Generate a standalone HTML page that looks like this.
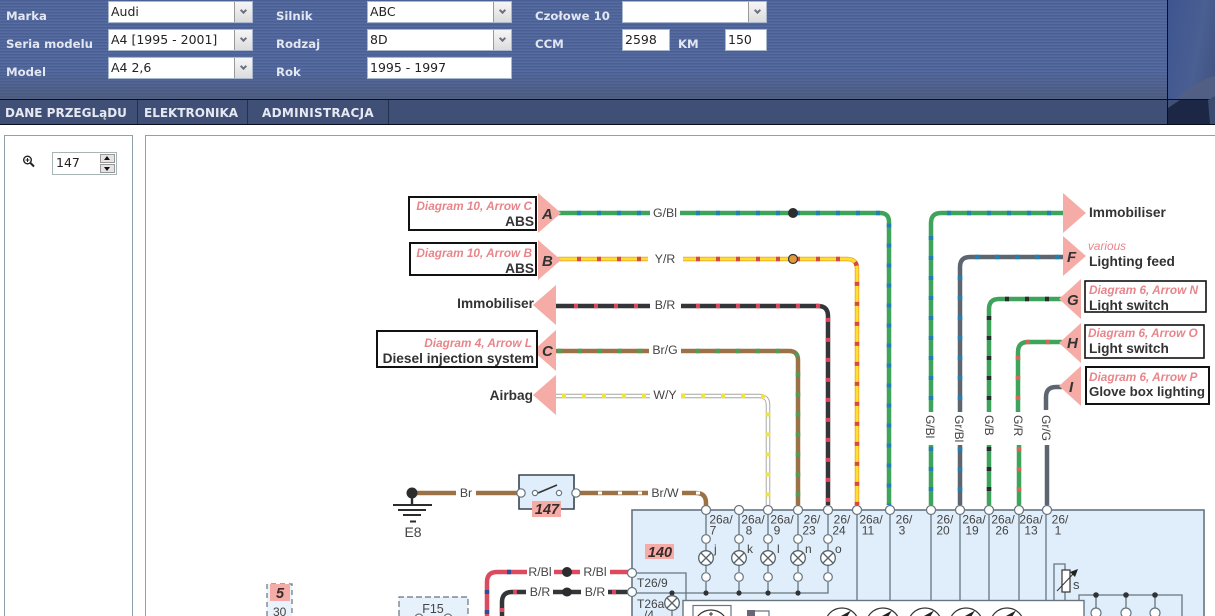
<!DOCTYPE html>
<html lang="pl">
<head>
<meta charset="utf-8">
<title>Diagram</title>
<style>
html,body{margin:0;padding:0;background:#fff;width:1215px;height:616px;overflow:hidden}
#wrap{position:relative;width:1215px;height:616px;overflow:hidden;font-family:"DejaVu Sans",sans-serif}
#head{position:absolute;left:0;top:0;width:1215px;height:99px;background:repeating-linear-gradient(180deg,#4a5f94 0,#4a5f94 1.5px,#566b9f 1.5px,#566b9f 3px)}
#fade{position:absolute;left:0;top:72px;width:1167px;height:27px;background:linear-gradient(180deg,rgba(70,85,115,0),rgba(75,85,105,.55))}
#line1{position:absolute;left:0;top:99px;width:1215px;height:1px;background:#0a0f20}
#nav{position:absolute;left:0;top:100px;width:1215px;height:24px;background:#3f4f75}
#line2{position:absolute;left:0;top:124px;width:1215px;height:1px;background:#0a0f20}
#vl{position:absolute;left:1167px;top:0;width:1px;height:124px;background:#0a0f20}
#pic{position:absolute;left:1168px;top:0;width:47px;height:99px;background:linear-gradient(100deg,#3d5590,#4a5f92 60%,#40527f)}
#pic2{position:absolute;left:1168px;top:100px;width:47px;height:24px;background:#25335a}
.l{position:absolute;color:#e2e7f2;font-weight:bold;font-size:11.7px;line-height:14px;white-space:nowrap}
.f{position:absolute;background:#fff;border:1px solid #a9b7cf;box-sizing:border-box;height:22px;font-size:12.5px;line-height:19px;padding-left:2px;color:#222;white-space:nowrap;overflow:hidden}
.s{width:145px}
.s i{position:absolute;right:0;top:0;bottom:0;width:17px;background:linear-gradient(180deg,#f6f6f6,#dcdcdc);border-left:1px solid #999}
.s i:after{content:"";position:absolute;left:5.5px;top:6px;width:3px;height:3px;border-right:2px solid #6a7080;border-bottom:2px solid #6a7080;transform:rotate(45deg)}
.n{position:absolute;top:100px;height:24px;line-height:27px;color:#e6e9f2;font-weight:bold;font-size:12px;white-space:nowrap}
.sep{position:absolute;top:100px;width:1px;height:24px;background:#25304e}
.panel{position:absolute;border:1px solid #8fa2a8;box-sizing:border-box;background:#fff}
#spin{position:absolute;left:52px;top:152px;width:65px;height:23px;border:1px solid #a9b4b4;box-sizing:border-box;font-size:12.5px;line-height:19px;padding-left:3px;color:#222}
.sb{position:absolute;left:47px;width:15px;height:9px;background:#e4e4e4;border:1px solid #999;box-sizing:border-box}
.sb:after{content:"";position:absolute;left:3px;border-left:3.5px solid transparent;border-right:3.5px solid transparent}
#up{top:1px}#up:after{top:1px;border-bottom:4px solid #111}
#dn{top:11px}#dn:after{top:2px;border-top:4px solid #111}
svg{position:absolute;left:0;top:0}
.w{font-family:"Liberation Sans",sans-serif;font-size:12.3px;fill:#444}
.v{font-family:"Liberation Sans",sans-serif;font-size:12px;fill:#444}
.b{font-family:"Liberation Sans",sans-serif;font-size:13.7px;font-weight:bold;fill:#333}
.d{font-family:"Liberation Sans",sans-serif;font-size:11.8px;font-weight:bold;font-style:italic;fill:#e8858a}
.a{font-family:"Liberation Sans",sans-serif;font-size:15px;font-weight:bold;font-style:italic;fill:#333}
.m{font-family:"Liberation Sans",sans-serif;font-size:12px;fill:#444}
.bd{font-family:"Liberation Sans",sans-serif;font-size:14.5px;font-weight:bold;font-style:italic;fill:#3a2a2a;text-anchor:middle}
.c{fill:#fff;stroke:#66757f;stroke-width:1.2}
.p{fill:none;stroke:#66757f;stroke-width:1.3}
</style>
</head>
<body>
<div id="wrap">
<div id="head"></div><div id="fade"></div>
<div id="pic"></div><div id="pic2"></div>
<div id="nav"></div>
<div id="line1"></div><div id="line2"></div><div id="vl"></div>

<div class="l" style="left:6px;top:9px">Marka</div>
<div class="l" style="left:6px;top:37px">Seria modelu</div>
<div class="l" style="left:6px;top:65px">Model</div>
<div class="l" style="left:276px;top:9px">Silnik</div>
<div class="l" style="left:276px;top:37px">Rodzaj</div>
<div class="l" style="left:276px;top:65px">Rok</div>
<div class="l" style="left:535px;top:9px">Czołowe 10</div>
<div class="l" style="left:535px;top:37px">CCM</div>
<div class="l" style="left:678px;top:37px">KM</div>

<div class="f s" style="left:108px;top:1px">Audi<i></i></div>
<div class="f s" style="left:108px;top:29px">A4 [1995 - 2001]<i></i></div>
<div class="f s" style="left:108px;top:57px">A4 2,6<i></i></div>
<div class="f s" style="left:367px;top:1px">ABC<i></i></div>
<div class="f s" style="left:367px;top:29px">8D<i></i></div>
<div class="f" style="left:367px;top:57px;width:145px">1995 - 1997</div>
<div class="f s" style="left:622px;top:1px"><i></i></div>
<div class="f" style="left:622px;top:29px;width:48px">2598</div>
<div class="f" style="left:725px;top:29px;width:42px">150</div>

<div class="n" style="left:5px">DANE PRZEGLąDU</div>
<div class="sep" style="left:137px"></div>
<div class="n" style="left:144px">ELEKTRONIKA</div>
<div class="sep" style="left:247px"></div>
<div class="n" style="left:262px;letter-spacing:.3px">ADMINISTRACJA</div>
<div class="sep" style="left:388px"></div>

<div class="panel" style="left:4px;top:135px;width:129px;height:490px"></div>
<div class="panel" style="left:145px;top:135px;width:1080px;height:490px"></div>
<div id="spin">147<div class="sb" id="up"></div><div class="sb" id="dn"></div></div>

<svg width="1215" height="616" viewBox="0 0 1215 616">
<!-- header picture -->
<polygon points="1175,99 1195,84 1208,78 1215,76 1215,99" fill="#525f84"/>
<polygon points="1168,124 1168,108 1180,100 1210,100 1215,108 1215,124" fill="#1c2745"/>
<polygon points="1208,100 1215,96 1215,124 1210,124" fill="#3c4c70"/>
<!-- magnifier -->
<circle cx="27.5" cy="160" r="3.8" fill="#fff" stroke="#222" stroke-width="1.4"/>
<path d="M30.5 163l3.5 3.5" stroke="#222" stroke-width="2"/>
<path d="M25.5 160h4M27.5 158v4" stroke="#222" stroke-width="1"/>

<!-- module -->
<rect x="632" y="510" width="572" height="120" fill="#e0eefb" stroke="#66757f" stroke-width="1.6"/>
<rect x="683" y="600.5" width="401" height="40" fill="#fff" stroke="#66757f" stroke-width="1.4"/>

<!-- module verticals -->
<path class="p" d="M706 510V535M706 544V551M706 565V572M706 582V593M739 510V535M739 544V551M739 565V572M739 582V593M768 510V535M768 544V551M768 565V572M768 582V593M798 510V535M798 544V551M798 565V572M798 582V593M828 510V535M828 544V551M828 565V572M828 582V593H632"/>
<path class="p" d="M857 510V600M890 510V600M931 510V600M960 510V600M989 510V600M1019 510V600M1046 510V600" stroke-width="1.6"/>
<path class="p" d="M632 573H686V600M672 593V597M672 610V616"/>

<!-- junction dots -->
<g fill="#2f3338"><circle cx="672" cy="593" r="2.6"/><circle cx="706" cy="593" r="2.6"/><circle cx="739" cy="593" r="2.6"/><circle cx="768" cy="593" r="2.6"/><circle cx="798" cy="593" r="2.6"/></g>

<!-- bulbs -->
<g fill="#fff" stroke="#55626c" stroke-width="1.3">
<circle cx="706" cy="558" r="7.3"/><path d="M701 553l10 10M711 553l-10 10"/>
<circle cx="739" cy="558" r="7.3"/><path d="M734 553l10 10M744 553l-10 10"/>
<circle cx="768" cy="558" r="7.3"/><path d="M763 553l10 10M773 553l-10 10"/>
<circle cx="798" cy="558" r="7.3"/><path d="M793 553l10 10M803 553l-10 10"/>
<circle cx="828" cy="558" r="7.3"/><path d="M823 553l10 10M833 553l-10 10"/>
<circle cx="672" cy="603" r="7.3"/><path d="M667 598l10 10M677 598l-10 10"/>
</g>
<g class="c">
<circle cx="706" cy="539" r="4.3"/><circle cx="739" cy="539" r="4.3"/><circle cx="768" cy="539" r="4.3"/><circle cx="798" cy="539" r="4.3"/><circle cx="828" cy="539" r="4.3"/>
<circle cx="706" cy="577" r="4.3"/><circle cx="739" cy="577" r="4.3"/><circle cx="768" cy="577" r="4.3"/><circle cx="798" cy="577" r="4.3"/><circle cx="828" cy="577" r="4.3"/>
</g>

<!-- wires -->
<g fill="none" stroke-linejoin="round">
<!-- G/Bl -->
<g stroke="#3fa45b" stroke-width="4.5"><path d="M558 213H650M680 213H880Q889 213 889 222V505"/></g>
<g stroke="#2080b4" stroke-width="4.5" stroke-dasharray="4 16"><path d="M577 213H650"/><path d="M696 213H880Q889 213 889 222V505"/></g>
<!-- Y/R -->
<g stroke="#eda53a" stroke-width="4.5"><path d="M558 259H648M683 259H847Q857 259 857 269V505"/></g>
<g stroke="#ffe02c" stroke-width="2.8"><path d="M558 259H648M683 259H847Q857 259 857 269V505"/></g>
<g stroke="#d9483f" stroke-width="4.5" stroke-dasharray="4 16"><path d="M577 259H648"/><path d="M696 259H847Q857 259 857 269V505"/></g>
<!-- B/R -->
<g stroke="#333538" stroke-width="4.5"><path d="M556 306H650M681 306H818Q828 306 828 316V505"/></g>
<g stroke="#d9485f" stroke-width="4.5" stroke-dasharray="4 16"><path d="M574 306H650"/><path d="M696 306H818Q828 306 828 316V505"/></g>
<!-- Br/G -->
<g stroke="#9b7246" stroke-width="4.5"><path d="M556 351H649M681 351H789Q798 351 798 360V505"/></g>
<g stroke="#48a05a" stroke-width="4.5" stroke-dasharray="4 16"><path d="M558 351H649"/><path d="M696 351H789Q798 351 798 360V505"/></g>
<!-- W/Y -->
<g stroke="#a5a59f" stroke-width="4.5"><path d="M556 396H650M681 396H759Q768 396 768 405V505"/></g>
<g stroke="#fff" stroke-width="2.6"><path d="M556 396H650M681 396H759Q768 396 768 405V505"/></g>
<g stroke="#f1e23e" stroke-width="4.5" stroke-dasharray="4 16"><path d="M562 396H650"/><path d="M681 396H759Q768 396 768 405V505"/></g>

<!-- right side -->
<g stroke="#3fa45b" stroke-width="4.5"><path d="M931 412V223Q931 213 941 213H1065M931 445V505"/></g>
<g stroke="#2080b4" stroke-width="4.5" stroke-dasharray="4 16"><path d="M947 213H1065"/><path d="M931 400V225"/><path d="M931 447V505"/></g>
<g stroke="#5d6570" stroke-width="4.5"><path d="M960 412V267Q960 257 970 257H1065M960 445V505"/></g>
<g stroke="#2080b4" stroke-width="4.5" stroke-dasharray="4 16"><path d="M975 257H1065"/><path d="M960 400V268"/><path d="M960 447V505"/></g>
<g stroke="#3fa45b" stroke-width="4.5"><path d="M989 412V309Q989 299 999 299H1062M989 445V505"/></g>
<g stroke="#2a2c2e" stroke-width="4.5" stroke-dasharray="4 16"><path d="M1005 299H1062"/><path d="M989 400V305"/><path d="M989 447V505"/></g>
<g stroke="#3fa45b" stroke-width="4.5"><path d="M1018 412V352Q1018 342 1028 342H1062M1019 445V505"/></g>
<g stroke="#d06a55" stroke-width="4.5" stroke-dasharray="4 16"><path d="M1026 342H1062"/><path d="M1018 400V352"/><path d="M1019 447V505"/></g>
<g stroke="#5d6570" stroke-width="4.5"><path d="M1046 410V397Q1046 387 1056 387H1062M1047 445V505"/></g>

<!-- Br, Br/W -->
<g stroke="#9b7246" stroke-width="4.5"><path d="M412 493H456M476 493H517M579 493H648M682 493H696Q706 493 706 503V508"/></g>
<g stroke="#fff" stroke-width="3" stroke-dasharray="4 16"><path d="M598 493H648"/></g>
<path d="M696 493h4" stroke="#fff" stroke-width="3"/>

<!-- R/Bl and B/R -->
<g stroke="#dc4a60" stroke-width="4.5"><path d="M487 616V582Q487 572 497 572H527M554 572H580M610 572H628"/></g>
<g stroke="#2c4f9c" stroke-width="4.5" stroke-dasharray="4 16"><path d="M487 614V580"/><path d="M507 572H527"/></g>
<g stroke="#333538" stroke-width="4.5"><path d="M502 616V602Q502 592 512 592H526M553 592H581M608 592H628"/></g>
<g stroke="#d9485f" stroke-width="4.5" stroke-dasharray="4 16"><path d="M502 612V600"/><path d="M513 592H526"/><path d="M612 592H628"/></g>
</g>
<ellipse cx="567" cy="572" rx="5" ry="5" fill="#2a2c2e"/>
<ellipse cx="567" cy="592" rx="5" ry="4.5" fill="#2a2c2e"/>

<!-- top connector circles -->
<g class="c">
<circle cx="706" cy="510" r="4.5"/><circle cx="739" cy="510" r="4.5"/><circle cx="768" cy="510" r="4.5"/><circle cx="798" cy="510" r="4.5"/><circle cx="828" cy="510" r="4.5"/><circle cx="857" cy="510" r="4.5"/><circle cx="890" cy="510" r="4.5"/><circle cx="931" cy="510" r="4.5"/><circle cx="960" cy="510" r="4.5"/><circle cx="989" cy="510" r="4.5"/><circle cx="1019" cy="510" r="4.5"/><circle cx="1047" cy="510" r="4.5"/>
<circle cx="632" cy="573" r="4.5"/><circle cx="632" cy="592" r="4.5"/>
</g>

<!-- dots on wires -->
<circle cx="793" cy="213" r="5" fill="#2a2c2e"/>
<circle cx="793" cy="259" r="4.5" fill="#e09a3a" stroke="#333" stroke-width="1.2"/>

<!-- triangles -->
<g fill="#f5aca6">
<polygon points="538,193 538,233 561,213"/>
<polygon points="538,240 538,280 561,260"/>
<polygon points="556,285 556,325 533,305"/>
<polygon points="556,330 556,371 533,351"/>
<polygon points="556,375 556,415 533,395"/>
<polygon points="1063,193 1063,233 1086,213"/>
<polygon points="1063,236 1063,276 1086,256"/>
<polygon points="1081,279 1081,319 1059,299"/>
<polygon points="1081,323 1081,363 1059,343"/>
<polygon points="1081,366 1081,406 1059,386"/>
</g>

<!-- boxes -->
<g fill="#fff" stroke="#111" stroke-width="2">
<rect x="409" y="197" width="127" height="33"/>
<rect x="410" y="243" width="126" height="32"/>
<rect x="377" y="331" width="160" height="36"/>
<rect x="1085" y="281" width="121" height="31" stroke-width="1.6"/>
<rect x="1085" y="325" width="119" height="33" stroke-width="1.6"/>
<rect x="1086" y="367" width="123" height="37"/>
</g>

<!-- letters -->
<text class="a" x="542" y="219">A</text>
<text class="a" x="542" y="266">B</text>
<text class="a" x="542" y="356">C</text>
<text class="a" x="1067" y="262">F</text>
<text class="a" x="1067" y="305">G</text>
<text class="a" x="1067" y="348">H</text>
<text class="a" x="1069" y="392">I</text>

<!-- left labels -->
<g text-anchor="end">
<text class="d" x="532" y="210">Diagram 10, Arrow C</text>
<text class="b" x="534" y="226">ABS</text>
<text class="d" x="532" y="257">Diagram 10, Arrow B</text>
<text class="b" x="534" y="273">ABS</text>
<text class="b" x="534" y="308">Immobiliser</text>
<text class="d" x="532" y="347">Diagram 4, Arrow L</text>
<text class="b" x="534" y="363">Diesel injection system</text>
<text class="b" x="533" y="400">Airbag</text>
</g>
<!-- right labels -->
<text class="b" x="1089" y="217">Immobiliser</text>
<text class="d" x="1088" y="250" style="font-weight:normal">various</text>
<text class="b" x="1089" y="266">Lighting feed</text>
<text class="d" x="1089" y="294">Diagram 6, Arrow N</text>
<text class="b" x="1089" y="310">Light switch</text>
<text class="d" x="1088" y="337">Diagram 6, Arrow O</text>
<text class="b" x="1089" y="353">Light switch</text>
<text class="d" x="1089" y="381">Diagram 6, Arrow P</text>
<text class="b" x="1089" y="396" style="font-size:13.3px">Glove box lighting</text>

<!-- wire labels -->
<g text-anchor="middle">
<text class="w" x="665" y="217">G/Bl</text>
<text class="w" x="665" y="263">Y/R</text>
<text class="w" x="665" y="309">B/R</text>
<text class="w" x="665" y="354">Br/G</text>
<text class="w" x="665" y="399">W/Y</text>
<text class="w" x="466" y="497">Br</text>
<text class="w" x="665" y="497">Br/W</text>
<text class="w" x="540" y="576">R/Bl</text>
<text class="w" x="595" y="576">R/Bl</text>
<text class="w" x="540" y="596">B/R</text>
<text class="w" x="595" y="596">B/R</text>
</g>
<g>
<text class="v" transform="translate(926,415) rotate(90)">G/Bl</text>
<text class="v" transform="translate(955,415) rotate(90)">Gr/Bl</text>
<text class="v" transform="translate(985,415) rotate(90)">G/B</text>
<text class="v" transform="translate(1014,415) rotate(90)">G/R</text>
<text class="v" transform="translate(1042,415) rotate(90)">Gr/G</text>
</g>

<!-- module pin labels -->
<g text-anchor="middle">
<text class="m" x="721" y="523.5">26a/</text><text class="m" x="713" y="534.5">7</text>
<text class="m" x="753" y="523.5">26a/</text><text class="m" x="749" y="534.5">8</text>
<text class="m" x="782" y="523.5">26a/</text><text class="m" x="777" y="534.5">9</text>
<text class="m" x="812" y="523.5">26/</text><text class="m" x="809" y="534.5">23</text>
<text class="m" x="842" y="523.5">26/</text><text class="m" x="839" y="534.5">24</text>
<text class="m" x="871" y="523.5">26a/</text><text class="m" x="868" y="534.5">11</text>
<text class="m" x="904" y="523.5">26/</text><text class="m" x="902" y="534.5">3</text>
<text class="m" x="945" y="523.5">26/</text><text class="m" x="943" y="534.5">20</text>
<text class="m" x="974" y="523.5">26a/</text><text class="m" x="972" y="534.5">19</text>
<text class="m" x="1003" y="523.5">26a/</text><text class="m" x="1002" y="534.5">26</text>
<text class="m" x="1031" y="523.5">26a/</text><text class="m" x="1031" y="534.5">13</text>
<text class="m" x="1060" y="523.5">26/</text><text class="m" x="1058" y="534.5">1</text>
</g>
<text class="m" x="714" y="553">j</text>
<text class="m" x="747" y="553">k</text>
<text class="m" x="777" y="553">l</text>
<text class="m" x="805" y="553">n</text>
<text class="m" x="835" y="553">o</text>
<text class="m" x="637" y="587">T26/9</text>
<text class="m" x="637" y="608">T26a</text>
<text class="m" x="644" y="619">/4</text>

<!-- badges -->
<rect x="645" y="544" width="29" height="15" fill="#f5aca6"/>
<text class="bd" x="660" y="557">140</text>

<!-- switch 147 -->
<path d="M519 475H574V509H519Z" fill="#e0eefb" stroke="#3a444c" stroke-width="1.6"/>
<rect x="532" y="501" width="29" height="16" fill="#f5aca6"/>
<text class="bd" x="547" y="514">147</text>
<path d="M538 493L557 485" stroke="#333" stroke-width="1.6"/>
<g class="c"><circle cx="521" cy="493" r="4.2"/><circle cx="576" cy="493" r="4.2"/><circle cx="535" cy="493" r="2.6"/><circle cx="559" cy="493" r="2.6"/></g>

<!-- ground E8 -->
<circle cx="412" cy="493" r="5.5" fill="#2a2c2e"/>
<path d="M412 497V504" stroke="#2a2c2e" stroke-width="2.4"/>
<path d="M393 505H432M398 510H426M403 515H421" stroke="#2a2c2e" stroke-width="2"/>
<path d="M410 521.5H416" stroke="#2a2c2e" stroke-width="2"/>
<text class="m" x="413" y="537" text-anchor="middle" style="font-size:14px">E8</text>

<!-- F15 -->
<path d="M399 616V597H468V616" fill="#e7f1fb" stroke="#66757f" stroke-width="1.2" stroke-dasharray="6 3"/>
<text class="m" x="433" y="613" text-anchor="middle" style="font-size:12.5px">F15</text>
<g class="c"><circle cx="419" cy="618" r="4"/><circle cx="448" cy="618" r="4"/></g>

<!-- 5 -->
<path d="M267 616V584H292V616" fill="#eaf3fc" stroke="#66757f" stroke-width="1.2" stroke-dasharray="5 4"/>
<rect x="270" y="584" width="20" height="17" fill="#f5aca6"/>
<text class="bd" x="280" y="598">5</text>
<text class="m" x="273" y="616">30</text>

<!-- inner module parts -->
<rect x="693" y="605.5" width="38" height="30" fill="#fff" stroke="#66757f" stroke-width="1.2"/>
<circle cx="711" cy="627" r="17" fill="#fff" stroke="#333" stroke-width="1.2"/>
<path d="M711 612v4M709 614h4" stroke="#333" stroke-width="1"/>
<polygon points="747,610 755,610 755,617 747,618" fill="#667"/>
<path d="M755 611H769V630" fill="none" stroke="#66757f" stroke-width="1.2"/>
<g fill="#fff" stroke="#333" stroke-width="1.2">
<circle cx="842" cy="625" r="17"/><circle cx="883" cy="625" r="17"/><circle cx="925" cy="625" r="17"/><circle cx="966" cy="625" r="17"/><circle cx="1007" cy="625" r="17"/>
</g>
<g fill="#222">
<polygon points="841,616 851,610.5 847,617"/><polygon points="882,616 892,610.5 888,617"/><polygon points="924,616 934,610.5 930,617"/><polygon points="965,616 975,610.5 971,617"/><polygon points="1006,616 1016,610.5 1012,617"/>
</g>

<!-- resistor -->
<path class="p" d="M1054 600V564H1065V570M1065 592V600"/>
<rect x="1062" y="570" width="8" height="22" fill="#fff" stroke="#333" stroke-width="1.2"/>
<path d="M1057 591L1075 572" stroke="#333" stroke-width="1"/>
<polygon points="1078,569 1075,577 1070,572" fill="#222"/>
<text class="m" x="1073" y="589" style="font-size:13px">s</text>

<!-- right rail -->
<path class="p" d="M1079 600V595H1182V616M1096 595V608M1126 595V608M1155 595V608"/>
<g fill="#2f3338"><circle cx="1096" cy="595" r="2.8"/><circle cx="1126" cy="595" r="2.8"/><circle cx="1155" cy="595" r="2.8"/></g>
<g class="c"><circle cx="1096" cy="613" r="5"/><circle cx="1126" cy="613" r="5"/><circle cx="1155" cy="613" r="5"/></g>
</svg>
</div>
</body>
</html>
